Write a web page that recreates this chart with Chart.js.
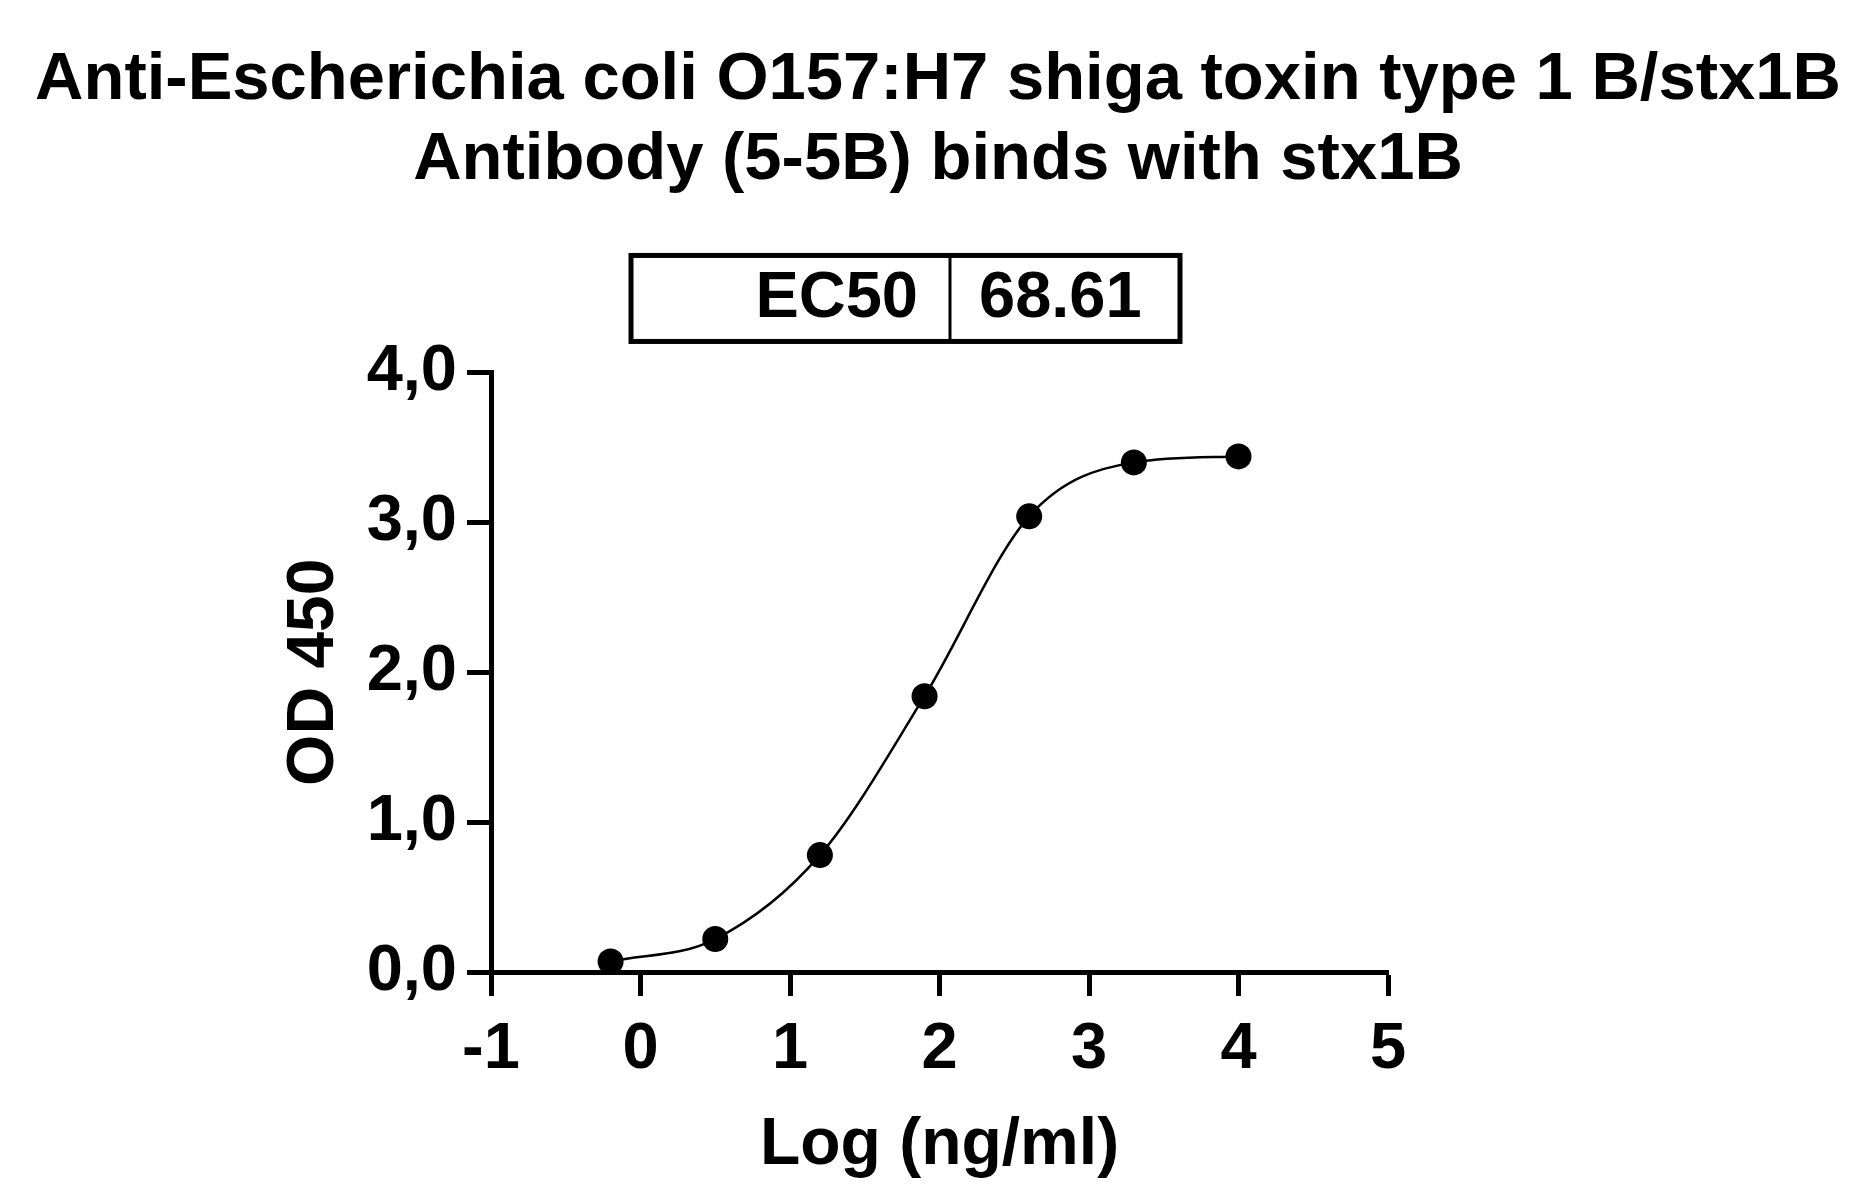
<!DOCTYPE html>
<html>
<head>
<meta charset="utf-8">
<script src="https://cdn.jsdelivr.net/npm/chart.js@4.4.1/dist/chart.umd.min.js"></script>
<style>
  html, body { margin: 0; padding: 0; background: #fff; }
  canvas { display: block; }
</style>
</head>
<body>
<canvas id="myChart" width="1856" height="1201"></canvas>
<script>
// data
var titleLines = ['Anti-Escherichia coli O157:H7 shiga toxin type 1 B/stx1B', 'Antibody (5-5B) binds with stx1B'];
var logConc = [-0.2, 0.5, 1.2, 1.9, 2.6, 3.3, 4.0];
var od450 = [0.07, 0.22, 0.78, 1.84, 3.04, 3.40, 3.44];
var xTicks = [-1, 0, 1, 2, 3, 4, 5];
var xTickLabels = ['-1', '0', '1', '2', '3', '4', '5'];
var yTicks = [0, 1, 2, 3, 4];
var yTickLabels = ['0,0', '1,0', '2,0', '3,0', '4,0'];
var ec50Label = 'EC50';
var ec50Value = '68.61';

var FONT = '"Liberation Sans", Arial, sans-serif';

var pts = [];
for (var i = 0; i < logConc.length; i++) pts.push({x: logConc[i], y: od450[i]});

// the little EC50 table above the plot
var ec50Box = {
    id: 'ec50Box',
    afterDraw: function (chart) {
        var c = chart.ctx, a = chart.chartArea;
        var l = a.left + 140, r = a.left + 689, t = a.top - 117, b = a.top - 31;
        var mid = a.left + 459;
        c.save();
        c.strokeStyle = '#000';
        c.lineWidth = 5;
        c.strokeRect(l, t, r - l, b - t);
        c.lineWidth = 3;
        c.beginPath();
        c.moveTo(mid, t);
        c.lineTo(mid, b);
        c.stroke();
        c.fillStyle = '#000';
        c.font = 'bold 65px ' + FONT;
        c.textBaseline = 'middle';
        c.textAlign = 'right';
        c.fillText(ec50Label, mid - 32, (t + b) / 2 + 1);
        c.textAlign = 'left';
        c.fillText(ec50Value, mid + 29, (t + b) / 2 + 1);
        c.restore();
    }
};

var ctx = document.getElementById('myChart').getContext('2d');
var myChart = new Chart(ctx, {
    type: 'scatter',
    data: {
        datasets: [{
            label: 'OD 450',
            data: pts,
            showLine: true,
            cubicInterpolationMode: 'monotone',
            borderColor: '#000',
            borderWidth: 2.5,
            backgroundColor: '#000',
            pointBackgroundColor: '#000',
            pointBorderColor: '#000',
            pointRadius: 13,
            pointBorderWidth: 0
        }]
    },
    plugins: [ec50Box],
    options: {
        responsive: false,
        animation: false,
        layout: {
            padding: {left: 20, right: 0, top: 0, bottom: 0}
        },
        plugins: {
            legend: {display: false},
            tooltip: {enabled: false},
            title: {
                display: true,
                text: titleLines,
                color: '#000',
                font: {family: FONT, size: 67, weight: 'bold', lineHeight: 1.19},
                padding: {top: 41, bottom: 172}
            }
        },
        scales: {
            x: {
                type: 'linear',
                min: -1,
                max: 5,
                afterFit: function (s) { s.height = 229; },
                afterBuildTicks: function (s) {
                    s.ticks = xTicks.map(function (v) { return {value: v}; });
                },
                ticks: {
                    color: '#000',
                    padding: 15,
                    font: {family: FONT, size: 65, weight: 'bold'},
                    callback: function (v) {
                        var k = xTicks.indexOf(v);
                        return k < 0 ? '' : xTickLabels[k];
                    }
                },
                grid: {
                    drawOnChartArea: false,
                    drawTicks: true,
                    tickLength: 24,
                    tickWidth: 5,
                    tickColor: '#000'
                },
                border: {display: true, color: '#000', width: 5},
                title: {
                    display: true,
                    text: 'Log (ng/ml)',
                    color: '#000',
                    font: {family: FONT, size: 66, weight: 'bold', lineHeight: 1.2},
                    padding: {top: 0, bottom: 16}
                }
            },
            y: {
                type: 'linear',
                min: 0,
                max: 4,
                afterFit: function (s) { s.width = 471; },
                afterBuildTicks: function (s) {
                    s.ticks = yTicks.map(function (v) { return {value: v}; });
                },
                ticks: {
                    color: '#000',
                    padding: 10,
                    font: {family: FONT, size: 65, weight: 'bold'},
                    callback: function (v) {
                        var k = yTicks.indexOf(v);
                        return k < 0 ? '' : yTickLabels[k];
                    }
                },
                grid: {
                    drawOnChartArea: false,
                    drawTicks: true,
                    tickLength: 24,
                    tickWidth: 5,
                    tickColor: '#000'
                },
                border: {display: true, color: '#000', width: 5},
                title: {
                    display: true,
                    text: 'OD 450',
                    color: '#000',
                    font: {family: FONT, size: 66, weight: 'bold', lineHeight: 1.2},
                    padding: {top: 255, bottom: 0}
                }
            },
            // empty space on the right of the plot, keeps the title centred on the page
            yRight: {
                type: 'linear',
                position: 'right',
                min: 0,
                max: 4,
                afterFit: function (s) { s.width = 468; },
                ticks: {display: false},
                grid: {display: false, drawTicks: false},
                border: {display: false}
            }
        }
    }
});
</script>
</body>
</html>
